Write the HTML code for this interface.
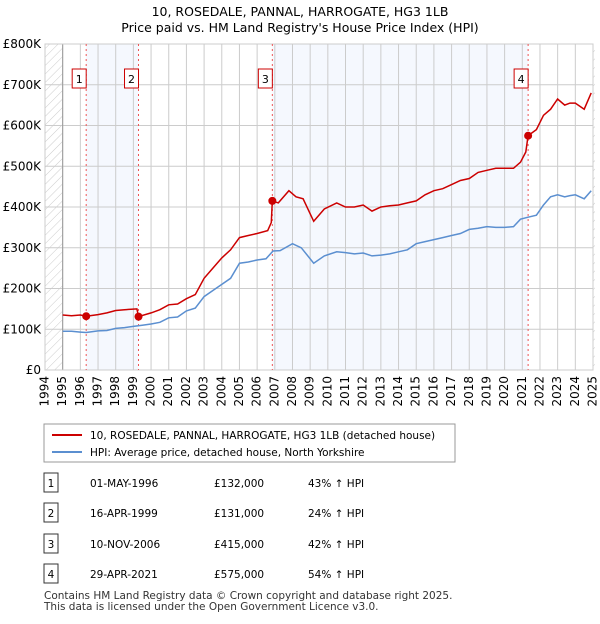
<!DOCTYPE html>
<html><head><meta charset="utf-8"><style>
body{margin:0;background:#fff;font-family:"DejaVu Sans",sans-serif;}
svg text{font-family:"DejaVu Sans",sans-serif;}
</style></head><body>
<svg width="600" height="620">
<defs><pattern id="hatch" width="6" height="6" patternUnits="userSpaceOnUse" patternTransform="rotate(45)"><line x1="0" y1="0" x2="0" y2="6" stroke="#ccc" stroke-width="1"/></pattern></defs>
<text x="300" y="16" text-anchor="middle" font-size="12.5">10, ROSEDALE, PANNAL, HARROGATE, HG3 1LB</text>
<text x="300" y="32" text-anchor="middle" font-size="12.5">Price paid vs. HM Land Registry's House Price Index (HPI)</text>
<g id="plot"></g>
<g>
<rect x="44" y="424" width="411" height="38" fill="#fff" stroke="#999"/>
<line x1="52" y1="435" x2="82" y2="435" stroke="#cc0000" stroke-width="2"/>
<text x="90" y="439" font-size="10.5">10, ROSEDALE, PANNAL, HARROGATE, HG3 1LB (detached house)</text>
<line x1="52" y1="452" x2="82" y2="452" stroke="#5b8fd0" stroke-width="2"/>
<text x="90" y="456" font-size="10.5">HPI: Average price, detached house, North Yorkshire</text>
</g>
<g id="table"></g>
<text x="44" y="599" font-size="10.5" fill="#333">Contains HM Land Registry data © Crown copyright and database right 2025.</text>
<text x="44" y="610" font-size="10.5" fill="#333">This data is licensed under the Open Government Licence v3.0.</text>
</svg>
<script>
const yTicks=[0,100,200,300,400,500,600,700,800];
const years=[1994,1995,1996,1997,1998,1999,2000,2001,2002,2003,2004,2005,2006,2007,2008,2009,2010,2011,2012,2013,2014,2015,2016,2017,2018,2019,2020,2021,2022,2023,2024,2025];
const saleDates=[1996.33,1999.29,2006.86,2021.33];
const saleValues=[132,131,415,575];
const saleLabels=["01-MAY-1996","16-APR-1999","10-NOV-2006","29-APR-2021"];
const salePrices=["£132,000","£131,000","£415,000","£575,000"];
const salePct=["43% ↑ HPI","24% ↑ HPI","42% ↑ HPI","54% ↑ HPI"];
const redX=[1995,1995.5,1996,1996.33,1997,1997.5,1998,1998.5,1999.2,1999.29,2000,2000.5,2001,2001.5,2002,2002.5,2003,2003.5,2004,2004.5,2005,2005.5,2006,2006.6,2006.8,2006.86,2007.2,2007.8,2008.2,2008.6,2009.2,2009.8,2010.5,2011,2011.5,2012,2012.5,2013,2013.5,2014,2014.5,2015,2015.5,2016,2016.5,2017,2017.5,2018,2018.5,2019,2019.5,2020,2020.5,2020.9,2021.2,2021.33,2021.8,2022.2,2022.6,2023,2023.4,2023.7,2024,2024.5,2024.9];
const redY=[135,133,135,132,136,140,146,148,150,131,140,148,160,162,175,185,225,250,275,295,325,330,335,342,362,415,410,440,425,420,365,395,410,400,400,405,390,400,403,405,410,415,430,440,445,455,465,470,485,490,495,495,495,510,535,575,590,625,640,665,650,655,655,640,680];
const hpiX=[1995,1995.5,1996,1996.33,1997,1997.5,1998,1998.5,1999,1999.5,2000,2000.5,2001,2001.5,2002,2002.5,2003,2003.5,2004,2004.5,2005,2005.5,2006,2006.5,2006.9,2007.3,2008,2008.5,2009.2,2009.8,2010.5,2011,2011.5,2012,2012.5,2013,2013.5,2014,2014.5,2015,2015.5,2016,2016.5,2017,2017.5,2018,2018.5,2019,2019.5,2020,2020.5,2020.9,2021.33,2021.8,2022.2,2022.6,2023,2023.4,2023.7,2024,2024.5,2024.9];
const hpiY=[95,95,93,92,96,97,102,104,107,110,113,117,128,130,145,152,180,195,210,225,262,265,270,273,292,293,310,300,262,280,290,288,285,287,280,282,285,290,295,310,315,320,325,330,335,345,348,352,350,350,352,370,375,380,405,425,430,425,428,430,420,440];
const X0=45,X1=593,Y0=370,Y1=44;
const sx=v=>X0+(v-1994)/31*(X1-X0);
const sy=v=>Y0-v/800*(Y0-Y1);
const NS="http://www.w3.org/2000/svg";
const plot=document.getElementById('plot');
function mk(tag,attrs,parent,text){const e=document.createElementNS(NS,tag);for(const k in attrs)e.setAttribute(k,attrs[k]);if(text!==undefined)e.textContent=text;(parent||plot).appendChild(e);return e;}
let e;
e=mk('rect',{x:sx(1994),y:Y1,width:sx(1995)-sx(1994),height:Y0-Y1,fill:'url(#hatch)'});


e=mk('rect',{x:sx(2025),y:Y1,width:X1+2-sx(2025),height:Y0-Y1,fill:'url(#hatch)'});


[[0,1],[2,3]].forEach(p=>{
 e=mk('rect',{x:sx(saleDates[p[0]]),y:Y1,width:sx(saleDates[p[1]])-sx(saleDates[p[0]]),height:Y0-Y1,fill:'#eef3fd',opacity:0.6});
 
 
});
years.forEach(y=>{
 e=mk('line',{x1:sx(y),x2:sx(y),y1:Y1,y2:Y0,stroke:'#ccc'});
 
 
 e=mk('text',{x:sx(y),y:Y0+6,'font-size':12,'text-anchor':'end',transform:`rotate(-90 ${sx(y)} ${Y0+6})`,'dominant-baseline':'middle'},plot,y);
 
 
});
yTicks.forEach(v=>{
 e=mk('line',{x1:X0,x2:X1,y1:sy(v),y2:sy(v),stroke:'#ccc'});
 
 
 e=mk('text',{x:41,y:sy(v)+4,'font-size':12,'text-anchor':'end'},plot,v===0?'£0':'£'+v+'K');
 
 
});
e=mk('line',{x1:sx(1995),x2:sx(1995),y1:Y1,y2:Y0,stroke:'#999'});


e=mk('rect',{x:X0,y:Y1,width:X1-X0,height:Y0-Y1,fill:'none',stroke:'#ccc'});


saleDates.forEach((d,i)=>{
 e=mk('line',{x1:sx(d),x2:sx(d),y1:Y1,y2:Y0,stroke:'#e55','stroke-dasharray':'2,3'});
 
 
 e=mk('rect',{x:sx(d)-14,y:69,width:14,height:19,fill:'#fff',stroke:'#cc0000'});
 
 
 e=mk('text',{x:sx(d)-7,y:83,'font-size':11,'text-anchor':'middle'},plot,i+1);
 
 
});
const pts=(xs,ys)=>xs.map((x,i)=>sx(x).toFixed(1)+','+sy(ys[i]).toFixed(1)).join(' ');
e=mk('polyline',{points:pts(hpiX,hpiY),fill:'none',stroke:'#5b8fd0','stroke-width':1.5});


e=mk('polyline',{points:pts(redX,redY),fill:'none',stroke:'#cc0000','stroke-width':1.5});


saleDates.forEach((d,i)=>{
 e=mk('circle',{cx:sx(d),cy:sy(saleValues[i]),r:4,fill:'#cc0000'});
 
 
});
const tb=document.getElementById('table');
const rowY=[483,513,544,574];
saleLabels.forEach((l,i)=>{
 const y=rowY[i];
 e=mk('rect',{x:44,y:y-10,width:14,height:19,fill:'#fff',stroke:'#333'},tb);
 
 
 e=mk('text',{x:51,y:y+4,'font-size':10.5,'text-anchor':'middle'},tb,i+1);
 
 
 e=mk('text',{x:90,y:y+4,'font-size':10.5},tb,l);
 
 
 e=mk('text',{x:214,y:y+4,'font-size':10.5},tb,salePrices[i]);
 
 
 e=mk('text',{x:308,y:y+4,'font-size':10.5},tb,salePct[i]);
 
 
});
</script>
</body></html>
